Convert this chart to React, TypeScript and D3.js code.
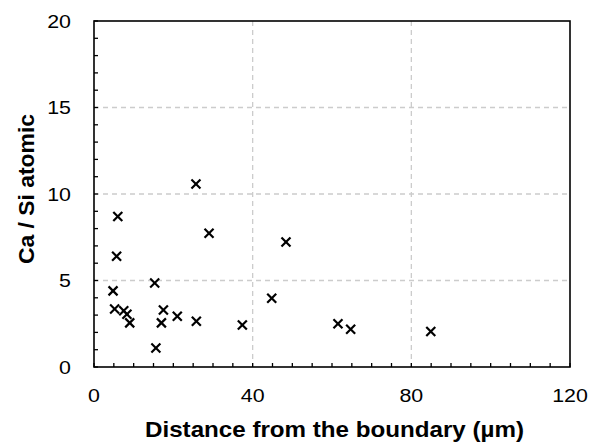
import React from "react";
import * as d3 from "d3";

const distances = [6.0, 5.7, 4.8, 5.2, 7.5, 8.3, 9.0, 15.3, 17.5, 17.0, 15.6, 21.0, 25.8, 25.7, 29.0, 37.4, 44.8, 48.4, 61.5, 64.7, 84.9];
const caSi = [8.7, 6.4, 4.4, 3.35, 3.25, 3.05, 2.55, 4.85, 3.3, 2.55, 1.1, 2.93, 2.64, 10.58, 7.73, 2.43, 3.97, 7.23, 2.5, 2.18, 2.05];
const xTicks = [0, 40, 80, 120];
const yTicks = [0, 5, 10, 15, 20];
const xTitle = "Distance from the boundary (µm)";
const yTitle = "Ca / Si atomic";

const W = 603, H = 448;
const L = 94, R = 570, T = 21, B = 367;

export default function App() {
  const x = d3.scaleLinear().domain([0, 120]).range([L, R]);
  const y = d3.scaleLinear().domain([0, 20]).range([B, T]);
  const xMinor = d3.range(0, 121, 5);
  const yMinor = d3.range(0, 21, 1);
  const font = "'Liberation Sans', Arial, sans-serif";
  const s = 4.5;
  const tickFs = 18.6;
  const sx = 1.15;
  return (
    <svg width={W} height={H} style={{ position: "absolute", left: 0, top: 0 }}>
      <rect x={0} y={0} width={W} height={H} fill="#fff" />
      {xTicks.filter(v => v > 0 && v < 120).map(v => (
        <line key={"gx" + v} x1={x(v)} x2={x(v)} y1={T} y2={B} stroke="#cccccc" strokeWidth={1.3} strokeDasharray="5,4" />
      ))}
      {yTicks.filter(v => v > 0 && v < 20).map(v => (
        <line key={"gy" + v} x1={L} x2={R} y1={y(v)} y2={y(v)} stroke="#cccccc" strokeWidth={1.3} strokeDasharray="5,4" />
      ))}
      {xMinor.map(v => (
        <line key={"tx" + v} x1={x(v)} x2={x(v)} y1={B} y2={B - 4} stroke="#000" strokeWidth={1.3} />
      ))}
      {yMinor.map(v => (
        <line key={"ty" + v} x1={L} x2={L + 4} y1={y(v)} y2={y(v)} stroke="#000" strokeWidth={1.3} />
      ))}
      <rect x={L} y={T} width={R - L} height={B - T} fill="none" stroke="#000" strokeWidth={1.6} />
      {distances.map((d, i) => {
        const cx = x(d), cy = y(caSi[i]);
        return (
          <g key={"p" + i} stroke="#000" strokeWidth={2.2}>
            <line x1={cx - s} y1={cy - s} x2={cx + s} y2={cy + s} />
            <line x1={cx - s} y1={cy + s} x2={cx + s} y2={cy - s} />
          </g>
        );
      })}
      {xTicks.map(v => (
        <g key={"lx" + v} transform={`translate(${x(v)},402) scale(${sx},1)`}>
          <text x={0} y={0} textAnchor="middle" fontFamily={font} fontSize={tickFs} fill="#000">{v}</text>
        </g>
      ))}
      {yTicks.map(v => (
        <g key={"ly" + v} transform={`translate(71,${y(v) + 6.7}) scale(${sx},1)`}>
          <text x={0} y={0} textAnchor="end" fontFamily={font} fontSize={tickFs} fill="#000">{v}</text>
        </g>
      ))}
      <text x={334.5} y={437} textAnchor="middle" fontFamily={font} fontSize={21.8} fontWeight="bold" fill="#000"
        textLength={379} lengthAdjust="spacingAndGlyphs">{xTitle}</text>
      <text transform={`translate(33.5,189) rotate(-90)`} textAnchor="middle" fontFamily={font} fontSize={21.8} fontWeight="bold" fill="#000"
        textLength={150} lengthAdjust="spacingAndGlyphs">{yTitle}</text>
    </svg>
  );
}
